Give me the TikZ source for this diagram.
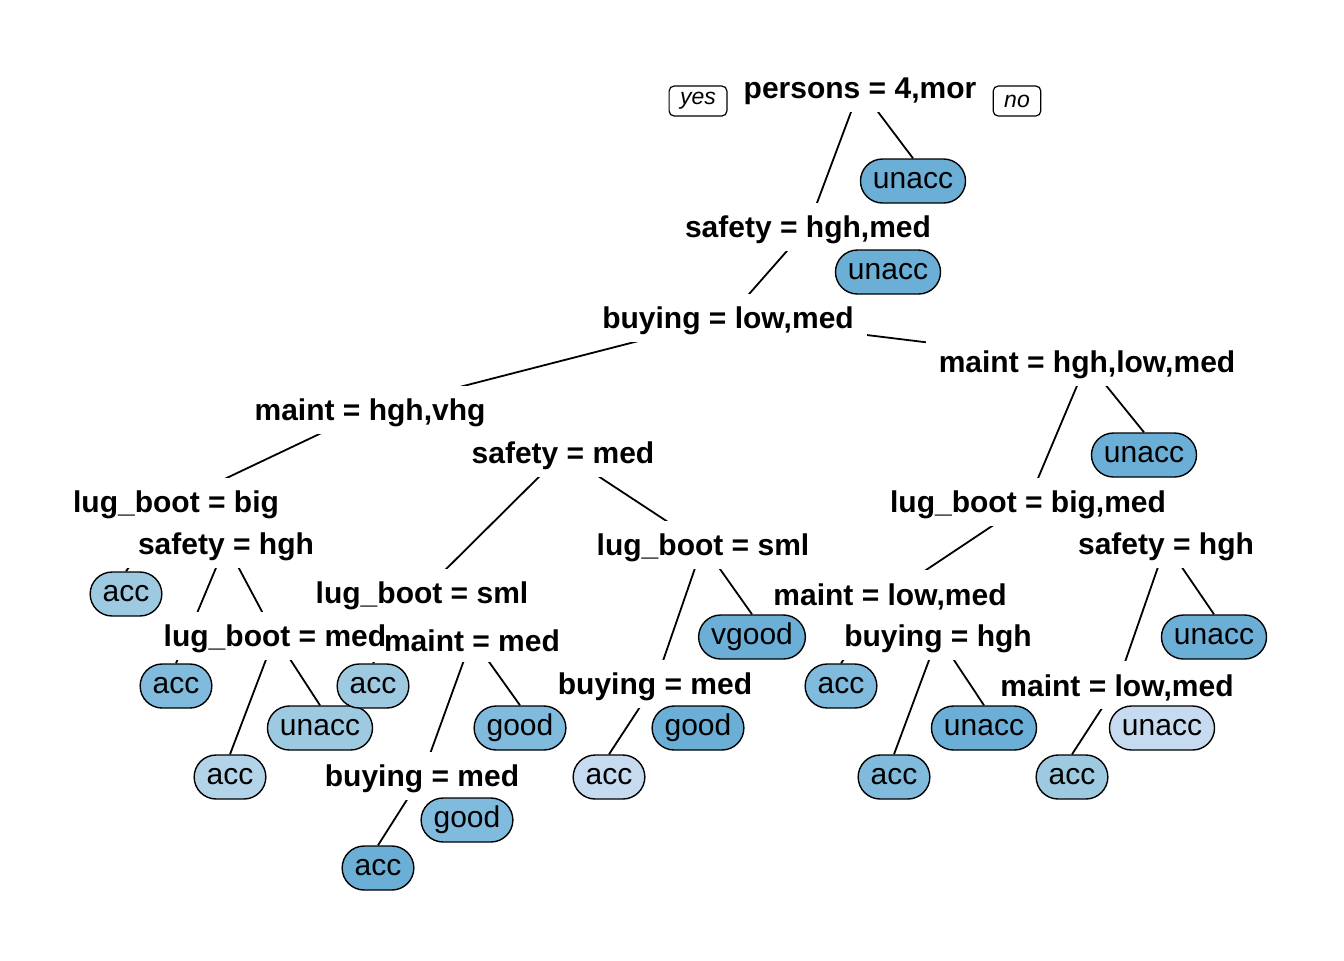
\documentclass[tikz,border=0pt]{standalone}
\usepackage{fontspec}
\setmainfont{Liberation Sans}
\usetikzlibrary{backgrounds}
\pgfdeclarelayer{edges}
\pgfdeclarelayer{labels}
\pgfsetlayers{edges,main,labels}
\definecolor{leafA}{HTML}{6BAED6}
\definecolor{leafB}{HTML}{80BADC}
\definecolor{leafC}{HTML}{9ECAE1}
\definecolor{leafD}{HTML}{B3D3E8}
\definecolor{leafE}{HTML}{C6DBEF}
\tikzset{
  split mask/.style={fill=white,inner xsep=6.5pt,inner ysep=0pt,minimum height=24pt,font=\fontsize{15}{18}\selectfont\bfseries},
  split text/.style={inner sep=0pt,yshift=-1.5pt,font=\fontsize{15}{18}\selectfont\bfseries},
  leaf/.style={draw,line width=0.7pt,rounded corners=11pt,minimum height=22pt,inner xsep=6.25pt,inner ysep=0pt,font=\fontsize{15}{18}\selectfont},
  side/.style={draw,line width=0.6pt,rounded corners=2.5pt,minimum height=15pt,inner xsep=5.5pt,inner ysep=0pt,font=\fontsize{11.5}{13}\selectfont\itshape}
}
% split label: white box hiding the branches, text on top
\newcommand{\splitlabel}[3]{%
  \node[split mask] (#1) at (#2) {\phantom{#3}};
  \begin{pgfonlayer}{labels}
    \node[split text] at (#2) {#3};
  \end{pgfonlayer}}
\begin{document}
\begin{tikzpicture}[x=0.5pt,y=-0.5pt]
\useasboundingbox (0,0) rectangle (1344,960);
% split nodes
\splitlabel{persons}{860,88}{persons = 4,mor}
\splitlabel{safetyA}{808,227}{safety = hgh,med}
\splitlabel{buyingA}{728,318}{buying = low,med}
\splitlabel{maintA}{370,410}{maint = hgh,vhg}
\splitlabel{maintB}{1087,362}{maint = hgh,low,med}
\splitlabel{lugA}{176,502}{lug\_boot = big}
\splitlabel{safetyB}{563,453}{safety = med}
\splitlabel{safetyC}{226,544}{safety = hgh}
\splitlabel{lugB}{275,636}{lug\_boot = med}
\splitlabel{lugC}{422,593}{lug\_boot = sml}
\splitlabel{maintC}{472,638}{maint = med}
\splitlabel{buyingB}{422,776}{buying = med}
\splitlabel{lugD}{703,545}{lug\_boot = sml}
\splitlabel{buyingC}{655,684}{buying = med}
\splitlabel{lugE}{1028,502}{lug\_boot = big,med}
\splitlabel{maintD}{890,594}{maint = low,med}
\splitlabel{buyingD}{938,636}{buying = hgh}
\splitlabel{safetyD}{1166,544}{safety = hgh}
\splitlabel{maintE}{1117,685}{maint = low,med}
\node[side] (yes) at (698,101) {yes};
\node[side] (no) at (1017,101) {no};
% leaves
\node[leaf,fill=leafA] (l1) at (913,181) {unacc};
\node[leaf,fill=leafA] (l2) at (888,272) {unacc};
\node[leaf,fill=leafA] (l3) at (1144,455) {unacc};
\node[leaf,fill=leafC] (l4) at (126,594) {acc};
\node[leaf,fill=leafB] (l5) at (176,686) {acc};
\node[leaf,fill=leafC] (l6) at (320,728) {unacc};
\node[leaf,fill=leafD] (l7) at (230,777) {acc};
\node[leaf,fill=leafC] (l8) at (373,686) {acc};
\node[leaf,fill=leafB] (l9) at (520,728) {good};
\node[leaf,fill=leafA] (l10) at (378,868) {acc};
\node[leaf,fill=leafB] (l11) at (467,820) {good};
\node[leaf,fill=leafA] (l12) at (752,637) {vgood};
\node[leaf,fill=leafE] (l13) at (609,777) {acc};
\node[leaf,fill=leafA] (l14) at (698,728) {good};
\node[leaf,fill=leafB] (l15) at (841,686) {acc};
\node[leaf,fill=leafB] (l16) at (894,777) {acc};
\node[leaf,fill=leafA] (l17) at (984,728) {unacc};
\node[leaf,fill=leafA] (l18) at (1214,637) {unacc};
\node[leaf,fill=leafC] (l19) at (1072,777) {acc};
\node[leaf,fill=leafE] (l20) at (1162,728) {unacc};
% branches
\begin{pgfonlayer}{edges}
\begin{scope}[line width=0.9pt]
\draw (persons.center) -- (safetyA.center);
\draw (persons.center) -- (l1.north);
\draw (safetyA.center) -- (buyingA.center);
\draw (safetyA.center) -- (l2.north);
\draw (buyingA.center) -- (maintA.center);
\draw (buyingA.center) -- (maintB.center);
\draw (maintA.center) -- (lugA.center);
\draw (maintA.center) -- (safetyB.center);
\draw (lugA.center) -- (l4.north);
\draw (lugA.center) -- (safetyC.center);
\draw (safetyC.center) -- (l5.north);
\draw (safetyC.center) -- (lugB.center);
\draw (lugB.center) -- (l7.north);
\draw (lugB.center) -- (l6.north);
\draw (safetyB.center) -- (lugC.center);
\draw (safetyB.center) -- (lugD.center);
\draw (lugC.center) -- (l8.north);
\draw (lugC.center) -- (maintC.center);
\draw (maintC.center) -- (buyingB.center);
\draw (maintC.center) -- (l9.north);
\draw (buyingB.center) -- (l10.north);
\draw (buyingB.center) -- (l11.north);
\draw (lugD.center) -- (buyingC.center);
\draw (lugD.center) -- (l12.north);
\draw (buyingC.center) -- (l13.north);
\draw (buyingC.center) -- (l14.north);
\draw (maintB.center) -- (lugE.center);
\draw (maintB.center) -- (l3.north);
\draw (lugE.center) -- (maintD.center);
\draw (lugE.center) -- (safetyD.center);
\draw (maintD.center) -- (l15.north);
\draw (maintD.center) -- (buyingD.center);
\draw (buyingD.center) -- (l16.north);
\draw (buyingD.center) -- (l17.north);
\draw (safetyD.center) -- (maintE.center);
\draw (safetyD.center) -- (l18.north);
\draw (maintE.center) -- (l19.north);
\draw (maintE.center) -- (l20.north);
\end{scope}
\end{pgfonlayer}
\end{tikzpicture}
\end{document}
